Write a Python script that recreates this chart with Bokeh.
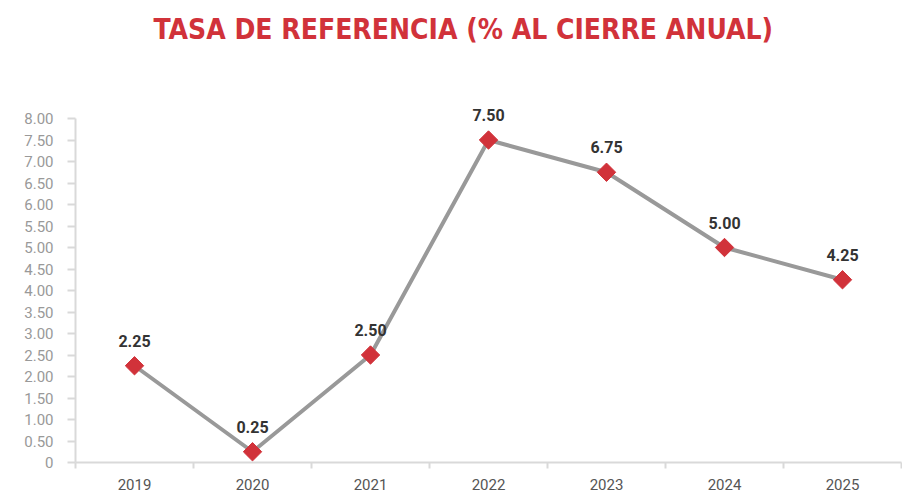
import math
from bokeh.plotting import figure
from bokeh.models import FixedTicker, Range1d, ColumnDataSource, Title, LabelSet
from bokeh.embed import file_html
from bokeh.resources import INLINE
from bokeh.core.properties import value

years = ["2019", "2020", "2021", "2022", "2023", "2024", "2025"]
rates = [2.25, 0.25, 2.50, 7.50, 6.75, 5.00, 4.25]
y_ticks = [0, 0.5, 1, 1.5, 2, 2.5, 3, 3.5, 4, 4.5, 5, 5.5, 6, 6.5, 7, 7.5, 8]

xs = [i + 0.5 for i in range(len(years))]
src = ColumnDataSource(dict(x=xs, y=rates, lab=["%.2f" % r for r in rates]))

RED = "#d1323a"
# frame spans 56..462 px; the axis itself covers 0..8 (118..462 px)
y_top = 8 + (118 - 56) / ((462 - 118) / 8)
p = figure(width=902, height=492, output_backend="svg", toolbar_location=None,
           x_range=Range1d(0, len(years)), y_range=Range1d(0, y_top),
           min_border_left=75, min_border_right=1, min_border_top=56, min_border_bottom=30)
p.outline_line_color = None
p.xgrid.visible = False
p.ygrid.visible = False

t = Title(text="TASA DE REFERENCIA (% AL CIERRE ANUAL)", align="left", offset=78,
          text_color=RED, text_font="DejaVu Sans Condensed", text_font_style="bold",
          text_font_size="28px", standoff=21)
p.title = t

p.line("x", "y", source=src, line_color="#999999", line_width=4)
p.scatter("x", "y", source=src, marker="square", size=13, angle=math.pi / 4,
          fill_color=RED, line_color=RED)
labels = LabelSet(x="x", y="y", text="lab", source=src, text_align="center",
                  text_baseline="bottom", y_offset=19, text_font=value("Roboto"),
                  text_font_style="bold", text_font_size="16px", text_color="#333333")
p.add_layout(labels)

# y axis
p.yaxis.bounds = (0, 8)
p.yaxis.ticker = FixedTicker(ticks=y_ticks)
p.yaxis.major_label_overrides = {t_: ("0" if t_ == 0 else "%.2f" % t_) for t_ in y_ticks}
p.yaxis.axis_line_color = "#d9d9d9"
p.yaxis.axis_line_width = 2
p.yaxis.major_tick_line_color = "#d9d9d9"
p.yaxis.major_tick_line_width = 2
p.yaxis.major_tick_in = 0
p.yaxis.major_tick_out = 8
p.yaxis.minor_tick_line_color = None
p.yaxis.major_label_text_font = "Roboto"
p.yaxis.major_label_text_font_size = "15px"
p.yaxis.major_label_text_color = "#999999"
p.yaxis.major_label_standoff = 14

# x axis
p.xaxis.ticker = FixedTicker(ticks=xs, minor_ticks=list(range(len(years) + 1)))
p.xaxis.major_label_overrides = {x: y for x, y in zip(xs, years)}
p.xaxis.axis_line_color = "#d9d9d9"
p.xaxis.axis_line_width = 2
p.xaxis.major_tick_line_color = None
p.xaxis.major_tick_in = 0
p.xaxis.major_tick_out = 0
p.xaxis.minor_tick_line_color = "#d9d9d9"
p.xaxis.minor_tick_line_width = 2
p.xaxis.minor_tick_in = 0
p.xaxis.minor_tick_out = 6
p.xaxis.major_label_text_font = "Roboto"
p.xaxis.major_label_text_font_size = "15px"
p.xaxis.major_label_text_color = "#555555"
p.xaxis.major_label_standoff = 10

open("out.html", "w").write(file_html(p, INLINE))
